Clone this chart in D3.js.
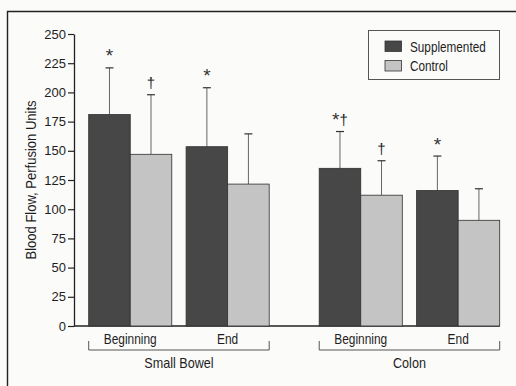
<!DOCTYPE html>
<html>
<head>
<meta charset="utf-8">
<script src="https://cdn.jsdelivr.net/npm/d3@7/dist/d3.min.js"></script>
<style>
html,body{margin:0;padding:0;background:#fbfbfa;}
svg{display:block;}
text{font-family:"Liberation Sans Narrow","Arial Narrow","Liberation Sans",Arial,sans-serif;fill:#1e1e1e;}
</style>
</head>
<body>
<svg id="chart" width="516" height="386"></svg>
<script>
// ---- data ----
const regions = ["Small Bowel", "Colon"];
const timepoints = ["Beginning", "End"];
const seriesNames = ["Supplemented", "Control"];
const supplemented = [181, 153.5, 135, 116];
const supplementedSD = [40, 50.5, 31.5, 29.5];
const control = [147, 121.5, 112, 90.5];
const controlSD = [51, 43, 29.5, 27];
const supplementedMarks = ["*", "*", "*†", "*"];
const controlMarks = ["†", "", "†", ""];
const yTicks = [0, 25, 50, 75, 100, 125, 150, 175, 200, 225, 250];

// ---- layout ----
const svg = d3.select("#chart");
const colors = {Supplemented: "#474747", Control: "#c4c4c4"};

// narrow text helper (condensed look)
function ntext(g, x, y, str, size, sx, anchor) {
  return g.append("text").attr("transform", `translate(${x},${y}) scale(${sx},1)`)
    .attr("text-anchor", anchor || "start").attr("font-size", size).text(str);
}

// frame
svg.append("path").attr("d", "M7.5,386 V11.5 H516")
  .attr("fill", "none").attr("stroke", "#222").attr("stroke-width", 1.4);

const y = d3.scaleLinear().domain([0, 250]).range([326, 34]);
const x0 = d3.scaleBand().domain(regions).range([88.7, 499.7]).paddingInner(0.217).paddingOuter(0);
const x1 = d3.scaleBand().domain(timepoints).range([0, x0.bandwidth()]).paddingInner(0.147).paddingOuter(0);
const x2 = d3.scaleBand().domain(seriesNames).range([0, x1.bandwidth()]).padding(0);

// build rows
const rows = [];
regions.forEach((r, ri) => timepoints.forEach((t, ti) => {
  const i = ri * 2 + ti;
  rows.push({region: r, time: t, series: "Supplemented", value: supplemented[i], sd: supplementedSD[i], mark: supplementedMarks[i]});
  rows.push({region: r, time: t, series: "Control", value: control[i], sd: controlSD[i], mark: controlMarks[i]});
}));
const bx = d => x0(d.region) + x1(d.time) + x2(d.series);

// y axis
const yAxis = d3.axisLeft(y).tickValues(yTicks).tickSize(6).tickPadding(2).tickSizeOuter(0);
const gy = svg.append("g").attr("transform", "translate(74,0)").call(yAxis);
gy.select(".domain").attr("stroke", "#222").attr("stroke-width", 1.3);
gy.selectAll(".tick line").attr("stroke", "#222").attr("stroke-width", 1.2);
gy.selectAll(".tick text").attr("font-size", 13).attr("fill", "#1e1e1e")
  .style("font-family", '"Liberation Sans Narrow","Arial Narrow","Liberation Sans",sans-serif');

// x axis line
svg.append("line").attr("x1", 74).attr("x2", x0("Colon") + x0.bandwidth())
  .attr("y1", y(0)).attr("y2", y(0)).attr("stroke", "#222").attr("stroke-width", 1.3);

// error bars + significance marks
const eb = svg.append("g");
rows.forEach(d => {
  const cx = bx(d) + x2.bandwidth() / 2;
  const top = y(d.value + d.sd);
  eb.append("line").attr("x1", cx).attr("x2", cx).attr("y1", y(d.value)).attr("y2", top)
    .attr("stroke", "#666").attr("stroke-width", 1);
  eb.append("line").attr("x1", cx - 4).attr("x2", cx + 4).attr("y1", top).attr("y2", top)
    .attr("stroke", "#333").attr("stroke-width", 1.2);
  if (d.mark) {
    const t = svg.append("text").attr("x", cx).attr("y", top - 5.5).attr("text-anchor", "middle");
    Array.from(d.mark).forEach(ch => {
      if (ch === "*") t.append("tspan").attr("font-size", 19).attr("fill", "#333").text(ch);
      else t.append("tspan").attr("font-size", 15).attr("dy", -1.5).text(ch);
    });
  }
});

// bars
svg.append("g").selectAll("rect").data(rows).join("rect")
  .attr("x", d => bx(d)).attr("width", x2.bandwidth())
  .attr("y", d => y(d.value)).attr("height", d => y(0) - y(d.value))
  .attr("fill", d => colors[d.series]).attr("stroke", "#2e2e2e").attr("stroke-width", 0.8);

// x labels + brackets
regions.forEach(r => {
  timepoints.forEach(t => {
    ntext(svg, x0(r) + x1(t) + x1.bandwidth() / 2, 344, t, 14, 0.85, "middle");
  });
  const a = x0(r), b = x0(r) + x0.bandwidth();
  svg.append("path").attr("d", `M${a},341 V350 H${b} V341`).attr("fill", "none")
    .attr("stroke", "#555").attr("stroke-width", 1);
  ntext(svg, (a + b) / 2, 368, r, 14, 0.9, "middle");
});

// y label
svg.append("text").attr("transform", "translate(36,180) rotate(-90) scale(0.93,1)")
  .attr("text-anchor", "middle").attr("font-size", 14).text("Blood Flow, Perfusion Units");

// legend
const lg = svg.append("g");
lg.append("rect").attr("x", 368.5).attr("y", 30.5).attr("width", 131).attr("height", 49)
  .attr("fill", "none").attr("stroke", "#555").attr("stroke-width", 1);
seriesNames.forEach((s, i) => {
  lg.append("rect").attr("x", 385).attr("y", 41 + i * 19.5).attr("width", 16.5).attr("height", 10.5)
    .attr("fill", colors[s]).attr("stroke", "#333").attr("stroke-width", 0.8);
  ntext(lg, 410, 51.5 + i * 19.5, s, 14, 0.84);
});
</script>
</body>
</html>
